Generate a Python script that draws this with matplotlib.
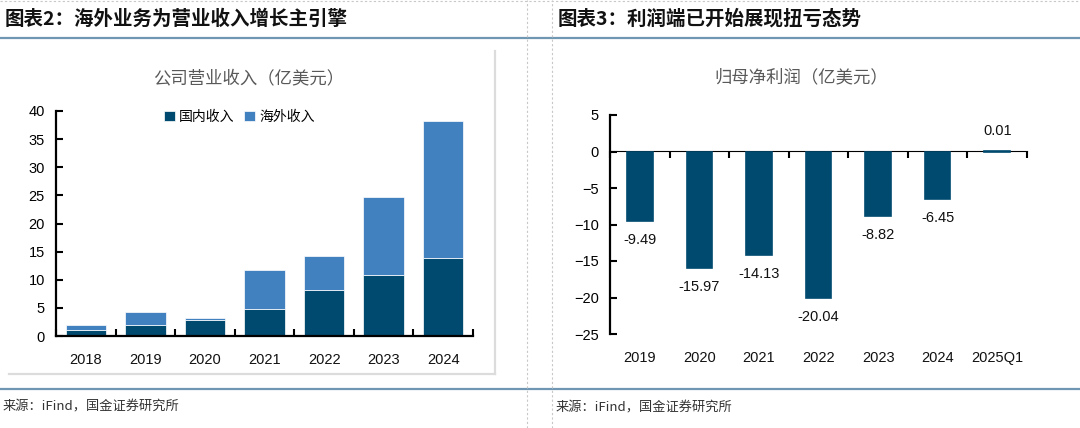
import matplotlib
matplotlib.use("Agg")
import matplotlib.pyplot as plt
import numpy as np
from matplotlib.lines import Line2D

plt.rcParams['font.family'] = ['Liberation Sans', 'Noto Sans CJK SC', 'DejaVu Sans']
CJK = ['Noto Sans CJK SC', 'DejaVu Sans']

# 左图：公司营业收入（亿美元）
rev_years = ['2018', '2019', '2020', '2021', '2022', '2023', '2024']
domestic = [1.07, 1.96, 2.79, 4.86, 8.18, 10.79, 13.93]
overseas = [0.89, 2.31, 0.35, 6.93, 6.10, 13.92, 24.27]

# 右图：归母净利润（亿美元）
np_years = ['2019', '2020', '2021', '2022', '2023', '2024', '2025Q1']
net_profit = [-9.49, -15.97, -14.13, -20.04, -8.82, -6.45, 0.01]

DARK = '#014a6f'
LIGHT = '#4281bf'
W, H = 1080, 428

fig = plt.figure(figsize=(W / 100, H / 100), dpi=100)


def fx(px):
    return px / W


def fy(py):
    return 1 - py / H


# 页面框线
line_kw = dict(transform=fig.transFigure, figure=fig)
fig.lines.append(Line2D([0, 1], [fy(38), fy(38)], color='#6f97b3', lw=1.6, **line_kw))
fig.lines.append(Line2D([0, 1], [fy(389), fy(389)], color='#6f97b3', lw=1.6, **line_kw))
fig.lines.append(Line2D([0, 1], [fy(1), fy(1)], color='#c8c8c8', lw=0.8, ls=(0, (2, 2)), **line_kw))
for xv in (527, 552):
    fig.lines.append(Line2D([fx(xv), fx(xv)], [0, 1], color='#c8c8c8', lw=0.8, ls=(0, (2, 2)), **line_kw))
# 左图灰色边框
fig.lines.append(Line2D([fx(495), fx(495)], [fy(51), fy(374)], color='#dcdcdc', lw=1.6, **line_kw))
fig.lines.append(Line2D([fx(9), fx(495)], [fy(374), fy(374)], color='#dcdcdc', lw=1.6, **line_kw))

# 标题与来源
fig.text(fx(5), fy(19), '图表2：海外业务为营业收入增长主引擎', family=CJK, fontsize=14,
         fontweight='heavy', style='italic', va='center', ha='left', color='#111111')
fig.text(fx(558), fy(19), '图表3：利润端已开始展现扭亏态势', family=CJK, fontsize=14,
         fontweight='heavy', style='italic', va='center', ha='left', color='#111111')
fig.text(fx(3), fy(407), '来源：iFind，国金证券研究所', family=CJK, fontsize=9.5,
         va='center', ha='left', color='#333333')
fig.text(fx(556), fy(408), '来源：iFind，国金证券研究所', family=CJK, fontsize=9.5,
         va='center', ha='left', color='#333333')
fig.text(fx(249), fy(78), '公司营业收入（亿美元）', family=CJK, fontsize=12.5,
         va='center', ha='center', color='#595959')
fig.text(fx(801), fy(77), '归母净利润（亿美元）', family=CJK, fontsize=12.5,
         va='center', ha='center', color='#595959')

# ---- 左图 ----
ax1 = fig.add_axes([fx(56), fy(336), fx(473 - 56), (336 - 111) / H])
x1 = np.arange(len(rev_years))
ax1.bar(x1, domestic, width=0.68, color=DARK, edgecolor='white', linewidth=0.5, label='国内收入')
ax1.bar(x1, overseas, width=0.68, bottom=domestic, color=LIGHT, edgecolor='white', linewidth=0.5,
        label='海外收入')
ax1.set_xlim(-0.5, len(rev_years) - 0.5)
ax1.set_ylim(0, 40)
ax1.set_yticks(np.arange(0, 41, 5))
ax1.set_xticks(x1)
ax1.set_xticklabels(rev_years)
ax1.set_xticks(np.arange(-0.5, len(rev_years)), minor=True)
ax1.tick_params(axis='x', which='major', length=0, pad=12, labelsize=10.5, colors='#111111')
ax1.tick_params(axis='x', which='minor', direction='in', length=5, width=1.5)
ax1.tick_params(axis='y', direction='in', length=5, width=1.5, labelsize=10.5, pad=8)
for s in ('top', 'right'):
    ax1.spines[s].set_visible(False)
for s in ('left', 'bottom'):
    ax1.spines[s].set_linewidth(1.6)
leg = ax1.legend(loc='upper center', bbox_to_anchor=(0.44, 1.06), ncol=2, frameon=False,
                 prop={'family': CJK, 'size': 10}, handlelength=0.8, handleheight=0.8,
                 handletextpad=0.3, columnspacing=0.7)

# ---- 右图 ----
ax2 = fig.add_axes([fx(610), fy(334), fx(1027 - 610), (334 - 115) / H])
x2 = np.arange(len(np_years))
ax2.set_xlim(-0.5, len(np_years) - 0.5)
ax2.set_ylim(-25, 5)
ax2.set_yticks(np.arange(-25, 6, 5))
ax2.set_xticks(x2)
ax2.set_xticklabels(np_years)
ax2.tick_params(axis='x', length=0, pad=12, labelsize=10.5, colors='#111111')
ax2.tick_params(axis='y', direction='in', length=5, width=1.5, labelsize=10.5, pad=8)
for s in ('top', 'right', 'bottom'):
    ax2.spines[s].set_visible(False)
ax2.spines['left'].set_linewidth(1.6)
zero_ax = ax2.secondary_xaxis(location=(0 - (-25)) / 30)
zero_ax.spines['bottom'].set_linewidth(1.6)
zero_ax.set_xticks(np.arange(-0.5, len(np_years)))
zero_ax.set_xticklabels([])
zero_ax.tick_params(direction='in', length=5, width=1.5)
# 柱子画在零轴之上，0.01 的细柱才能看见
ax2.bar(x2, net_profit, width=0.43, color=DARK, edgecolor=DARK, linewidth=1.2, zorder=5)

for xi, v in zip(x2, net_profit):
    off = -19 if v < 0 else 20
    ax2.annotate(f'{v:.2f}', (xi, v), xytext=(0, off * 0.72), textcoords='offset points',
                 ha='center', va='center', fontsize=10.5, color='#111111')

fig.savefig('out.png', dpi=100)
